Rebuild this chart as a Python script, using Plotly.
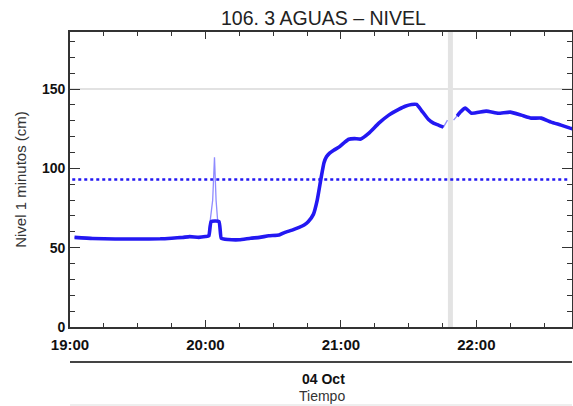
import pandas as pd
import plotly.graph_objects as go

# ---------------- data ----------------
day = "2023-10-04"
start_time = "19:00"

# smoothed level (minutes after 19:00, cm); None = data gap
smooth_minutes = [2, 10, 20, 30, 40, 45, 50, 53, 57, 60, 61.5, 62.5, 66, 67, 70, 75, 80, 84, 88,
                  92.6, 95, 98.4, 101.5, 103.7, 105.5, 107.8, 109.5, 111.2, 112.5, 113.6, 115,
                  116.8, 119.1, 121.5, 123.5, 126, 128.8, 132.4, 136.8, 141.2, 145.6, 148.5,
                  151.3, 153.5, 155.7, 158.8, 161, 163.2, 165.4, 166.2, 170.5, 171.5, 172.9,
                  175.1, 177.8, 184.4, 189.7, 195, 199.9, 204.3, 208.7, 213.1, 217.5, 221.5, 223]
smooth_values = [56.5, 55.8, 55.5, 55.5, 55.6, 56, 56.5, 57, 56.5, 57, 57.5, 66.5, 66.5, 56, 55.2,
                 55, 56, 56.5, 57.5, 58, 59.5, 61.1, 62.8, 64.3, 66.3, 71, 80, 93.9, 103.5,
                 107.3, 109.6, 111.4, 113.4, 116.3, 118.4, 118.8, 118.5, 122.2, 128.5, 133.6,
                 137.2, 139.2, 140.3, 140.3, 136.5, 130.8, 128.5, 127.3, 126, None, None, 133,
                 135.5, 138, 134.8, 136.1, 134.8, 135.5, 133.6, 131.7, 131.7, 129.2, 127.3,
                 125.4, 124.8]

# raw 1-minute level where it departs from the smoothed curve
spike_minutes = [61.3, 62, 63.2, 64, 64.7, 65.4, 66.2, 67]
spike_values = [57.5, 66, 80, 107, 80, 67, 66.5, 56]
gap_edge_minutes = [167.2, 169.9]
gap_edge_values = [130.4, 130.4]

alert_level = [93]        # blue dotted reference level (cm)
upper_level = [150]       # grey reference level (cm)
gap_minute = [168.5]      # data gap marker
y_range = [0, 186]

title_text = "106. 3 AGUAS \u2013 NIVEL"
y_title = "Nivel 1 minutos (cm)"
date_label = "04 Oct"
x_title = "Tiempo"

# ---------------- build ----------------
base = pd.Timestamp(f"{day} {start_time}")
def to_t(mins):
    return [None if m is None else base + pd.Timedelta(minutes=m) for m in mins]

raw_pts = [(m, v) for m, v in zip(smooth_minutes, smooth_values)
           if v is not None and not (spike_minutes[0] <= m <= spike_minutes[-1])]
raw_pts += list(zip(spike_minutes, spike_values)) + list(zip(gap_edge_minutes, gap_edge_values))
raw_pts.sort()
raw_minutes, raw_values = [], []
for m, v in raw_pts:
    if raw_minutes and raw_minutes[-1] is not None and raw_minutes[-1] < gap_minute[0] < m:
        raw_minutes.append(gap_minute[0]); raw_values.append(None)
    raw_minutes.append(m); raw_values.append(v)

BLUE = "#2318f2"
LIGHT = "#8f8bff"
AX = "#333333"
FONT = "Liberation Sans, Arial, Helvetica, sans-serif"

# layout in window pixels (body margin removed in post_script)
L, T, B = 70, 32, 406 - 327
PW = 504                      # right edge of plot at x=574, just outside the window
W = L + PW + 1
R = W - L - PW
PH = 406 - T - B
px_per_min = 136 / 60
x0 = base
x1 = base + pd.Timedelta(minutes=PW / px_per_min)
def py(pix):
    return (327 - pix) / PH
def px(pix):
    return (pix - L) / PW

fig = go.Figure()
fig.add_trace(go.Scatter(x=[x0, x1], y=upper_level * 2, mode="lines",
                         line=dict(color="#e2e2e2", width=2), hoverinfo="skip"))
gt = to_t(gap_minute)[0]
fig.add_trace(go.Scatter(x=[gt, gt], y=y_range, mode="lines",
                         line=dict(color="#e3e3e3", width=5), hoverinfo="skip"))
fig.add_trace(go.Scatter(x=[x0 + pd.Timedelta(minutes=1), x1 - pd.Timedelta(minutes=1.5)],
                         y=alert_level * 2, mode="lines",
                         line=dict(color=BLUE, width=2.6, dash="dot"), hoverinfo="skip"))
fig.add_trace(go.Scatter(x=to_t(raw_minutes), y=raw_values, mode="lines",
                         line=dict(color=LIGHT, width=1.3), connectgaps=False))
fig.add_trace(go.Scatter(x=to_t(smooth_minutes), y=smooth_values, mode="lines",
                         line=dict(color=BLUE, width=3.6, shape="spline", smoothing=0.4),
                         connectgaps=False))

fig.update_layout(
    width=W, height=406,
    margin=dict(l=L, r=R, t=T, b=B),
    paper_bgcolor="white", plot_bgcolor="white",
    showlegend=False,
    font=dict(family=FONT, color="#111111", size=13),
    xaxis=dict(
        type="date", range=[x0, x1],
        tickformat="%H:%M", dtick=3600000, tick0=base,
        ticks="inside", ticklen=7, tickwidth=1.3, tickcolor=AX,
        minor=dict(ticks="inside", ticklen=4, dtick=900000, tick0=base, tickcolor=AX, tickwidth=1.2),
        showline=True, linecolor=AX, linewidth=1.6, mirror="ticks",
        showgrid=False, zeroline=False,
        tickfont=dict(size=15, color="#111111", weight="bold"),
        ticklabelstandoff=3,
    ),
    yaxis=dict(
        range=y_range, dtick=50, tick0=0,
        ticks="inside", ticklen=10, tickwidth=1.3, tickcolor=AX,
        minor=dict(ticks="inside", ticklen=5, dtick=10, tickcolor=AX, tickwidth=1.2),
        showline=True, linecolor=AX, linewidth=1.8, mirror="ticks",
        showgrid=False, zeroline=False,
        tickfont=dict(size=14, color="#111111", weight="bold"),
        title=dict(text=y_title, font=dict(size=15, color="#333333"), standoff=12),
    ),
)

fig.add_annotation(text=title_text, xref="paper", yref="paper", x=px(325), y=py(18),
                   showarrow=False, font=dict(size=19.5, color="#222222"), yanchor="middle")
fig.add_annotation(text=date_label, xref="paper", yref="paper", x=px(325), y=py(379),
                   showarrow=False, font=dict(size=14, color="#111111", weight="bold"),
                   yanchor="middle")
fig.add_annotation(text=x_title, xref="paper", yref="paper", x=px(323), y=py(396),
                   showarrow=False, font=dict(size=14, color="#333333"), yanchor="middle")
fig.add_shape(type="line", xref="paper", yref="paper", x0=0, x1=1, y0=py(362), y1=py(362),
              line=dict(color="#444444", width=2))
fig.add_shape(type="line", xref="paper", yref="paper", x0=0, x1=1, y0=py(405), y1=py(405),
              line=dict(color="#dddddd", width=1))

fig.write_html("out.html",
               config={"displayModeBar": False},
               post_script="document.body.style.margin='0';document.body.style.overflow='hidden';")
